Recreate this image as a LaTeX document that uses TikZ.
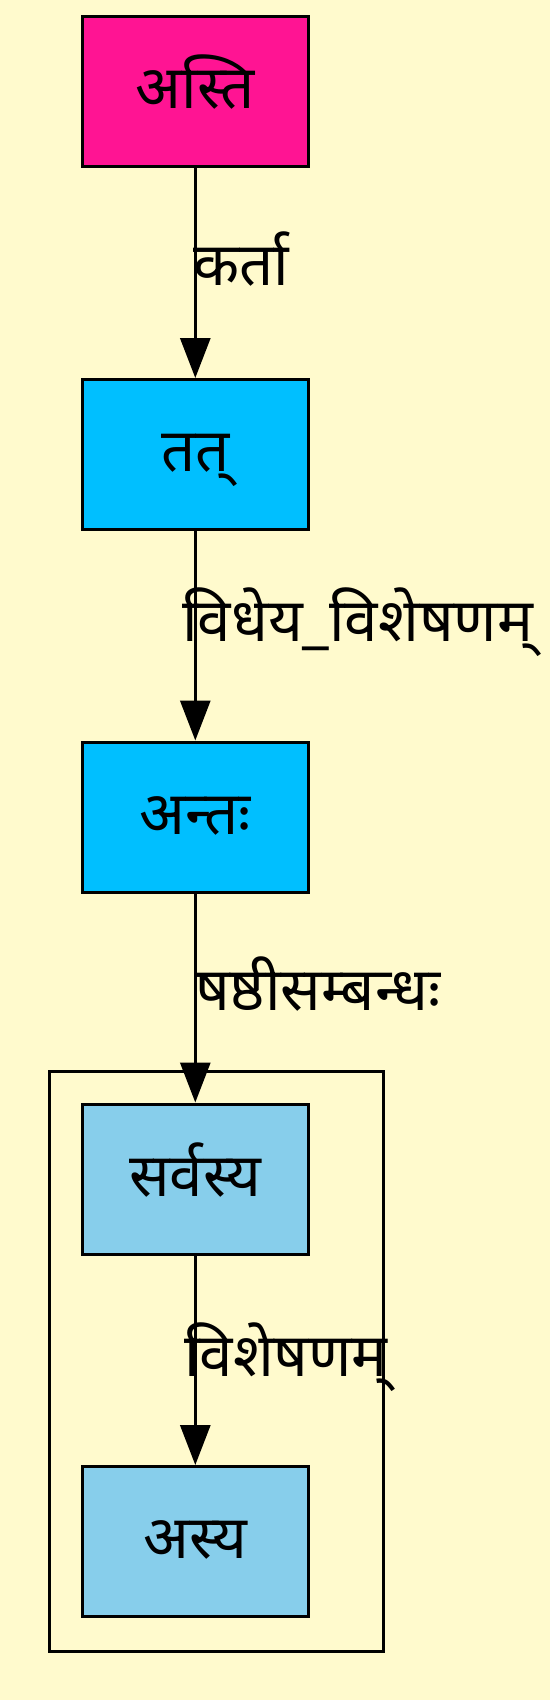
\documentclass[tikz,border=0pt]{standalone}
\usepackage{fontspec}
\newfontfamily\deva[Script=Devanagari]{Noto Sans}
\usetikzlibrary{arrows.meta}
\definecolor{bgc}{HTML}{FFFACD}
\definecolor{pinkc}{HTML}{FF1493}
\definecolor{bluec}{HTML}{00BFFF}
\definecolor{lbluec}{HTML}{87CEEB}
\begin{document}
\begin{tikzpicture}[x=1pt,y=-1pt,
  wordbox/.style={draw=black,line width=3pt,minimum width=226pt,minimum height=150pt,inner sep=0pt,
    font=\deva\fontsize{60}{63}\selectfont,text height=34pt,text depth=0pt},
  edgelbl/.style={anchor=base west,inner sep=0pt,font=\deva\fontsize{60}{63}\selectfont},
  arr/.style={line width=3pt,-{Triangle[length=40pt,width=30pt]}}]
\fill[bgc] (0,0) rectangle (550,1700);
\useasboundingbox (0,0) rectangle (550,1700);
\draw[line width=3pt] (49,1071) rectangle (383,1651);
\node[wordbox,fill=pinkc] (n1) at (195.3,91) {अस्ति};
\node[wordbox,fill=bluec] (n2) at (195.3,454.5) {तत्};
\node[wordbox,fill=bluec] (n3) at (195.3,817) {अन्तः};
\node[wordbox,fill=lbluec] (n4) at (195.3,1179) {सर्वस्य};
\node[wordbox,fill=lbluec] (n5) at (195.3,1541.5) {अस्य};
\draw[arr] (n1) -- (n2);
\draw[arr] (n2) -- (n3);
\draw[arr] (n3) -- (n4);
\draw[arr] (n4) -- (n5);
\node[edgelbl] (l1) at (193,285) {कर्ता};
\node[edgelbl] (l2) at (182,641) {विधेय\_विशेषणम्};
\node[edgelbl] (l3) at (195,1010) {षष्ठीसम्बन्धः};
\node[edgelbl] (l4) at (184,1376) {विशेषणम्};
\end{tikzpicture}
\end{document}
